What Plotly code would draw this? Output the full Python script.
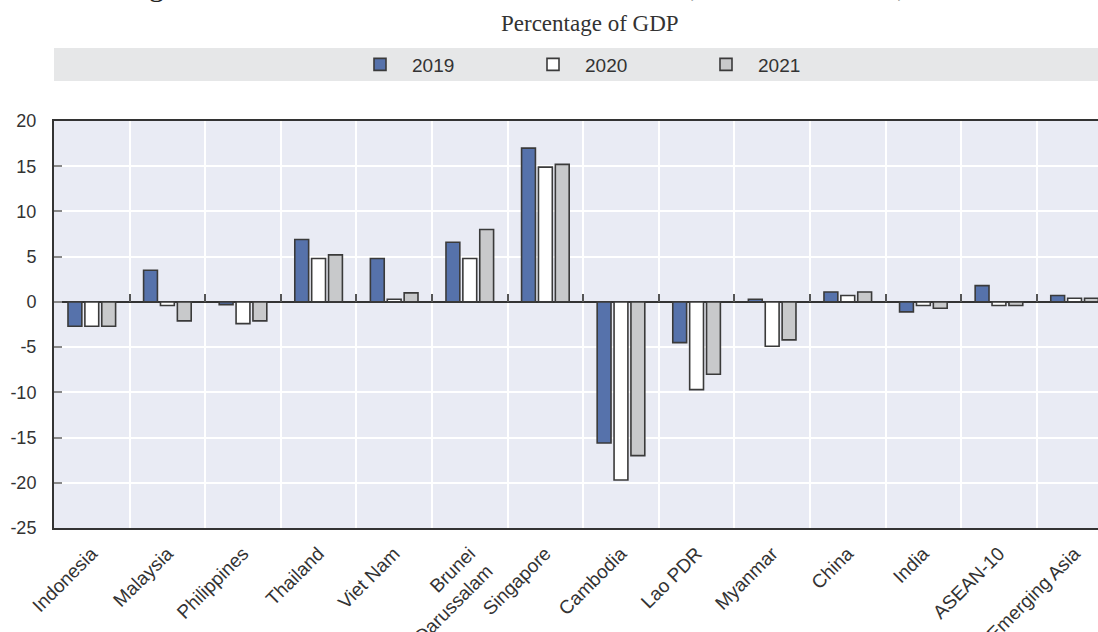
import plotly.graph_objects as go

categories = ["Indonesia", "Malaysia", "Philippines", "Thailand", "Viet Nam",
              "Brunei<br>Darussalam", "Singapore", "Cambodia", "Lao PDR", "Myanmar",
              "China", "India", "ASEAN-10", "Emerging Asia"]
years = ["2019", "2020", "2021"]
v2019 = [-2.7, 3.5, -0.3, 6.9, 4.8, 6.6, 17.0, -15.6, -4.5, 0.3, 1.1, -1.1, 1.8, 0.7]
v2020 = [-2.7, -0.4, -2.4, 4.8, 0.3, 4.8, 14.9, -19.7, -9.7, -4.9, 0.7, -0.4, -0.4, 0.4]
v2021 = [-2.7, -2.1, -2.1, 5.2, 1.0, 8.0, 15.2, -17.0, -8.0, -4.2, 1.1, -0.7, -0.4, 0.4]
y_tickvals = [-25, -20, -15, -10, -5, 0, 5, 10, 15, 20]
y_ticktext = ["-25", "-20", "-15", "-10", "-5", "0", "5", "10", "15", "20"]
series = [v2019, v2020, v2021]
colors = ["#5672AB", "#FFFFFF", "#C8C9CB"]

FONT = "Liberation Sans, Arial, sans-serif"
SERIF = "Liberation Serif, DejaVu Serif, serif"

fig = go.Figure()
for name, vals, col in zip(years, series, colors):
    fig.add_trace(go.Bar(x=categories, y=vals, name=name,
                         marker=dict(color=col, line=dict(color="#3a3a3a", width=1.6))))

# invisible helper trace to draw tick marks on the zero line
fig.add_trace(go.Scatter(x=categories, y=[0] * len(categories), xaxis="x2",
                         mode="markers", marker=dict(opacity=0), showlegend=False,
                         hoverinfo="skip"))

W, H = 1098, 632
ml, mr, mt, mb = 54, 0, 121, 632 - 528
ph = H - mt - mb
pw = W - ml - mr

def px_x(p):
    return (p - ml) / pw

def px_y(p):
    return 1 + (mt - p) / ph

fig.update_layout(
    width=W, height=H,
    margin=dict(l=ml, r=mr, t=mt, b=mb, autoexpand=False),
    paper_bgcolor="white",
    plot_bgcolor="#E9EBF4",
    barmode="group",
    bargap=0.33,
    bargroupgap=0.18,
    font=dict(family=FONT, color="#333333"),
    showlegend=True,
    legend=dict(orientation="h", x=px_x(348), xanchor="left", y=px_y(64.5), yanchor="middle",
                bgcolor="rgba(0,0,0,0)", font=dict(size=19, family=FONT, color="#333333"),
                itemwidth=54, entrywidth=104, entrywidthmode="pixels", traceorder="normal"),
    xaxis=dict(type="category", categoryorder="array", categoryarray=categories,
               range=[-0.5, 13.31], tickson="boundaries", showgrid=True,
               gridcolor="white", gridwidth=1.5, ticks="", tickangle=-45,
               tickfont=dict(size=19, family=FONT, color="#333333"),
               ticklabelstandoff=5,
               showline=True, linecolor="#333333", linewidth=2, mirror=True,
               zeroline=False, automargin=False),
    xaxis2=dict(type="category", categoryorder="array", categoryarray=categories,
                range=[-0.5, 13.31], overlaying="x", anchor="free",
                position=25 / 45, side="bottom", tickson="boundaries",
                ticks="inside", ticklen=8, tickcolor="#555555", tickwidth=1.5,
                showticklabels=False, showgrid=False, showline=False, zeroline=False,
                automargin=False),
    yaxis=dict(range=[-25, 20], tickmode="array", tickvals=y_tickvals, ticktext=y_ticktext,
               showgrid=True, gridcolor="white",
               gridwidth=1.5, ticks="inside", ticklen=8, tickcolor="#888888", tickwidth=1.5,
               tickfont=dict(size=18, family=FONT, color="#333333"),
               showline=True, linecolor="#333333", linewidth=2, mirror=False,
               zeroline=True, zerolinecolor="#333333", zerolinewidth=2,
               ticklabelstandoff=12, automargin=False),
    shapes=[dict(type="rect", xref="paper", yref="paper", x0=0, x1=1,
                 y0=px_y(81), y1=px_y(48), fillcolor="#E6E7E8", line=dict(width=0),
                 layer="below")],
    annotations=[
        dict(text="Figure 1.3. Current account balance in ASEAN, China and India, 2019-21",
             xref="paper", yref="paper", x=px_x(568), y=px_y(4), xanchor="center",
             yanchor="bottom", showarrow=False,
             font=dict(family=SERIF, size=30, color="#222222")),
        dict(text="Percentage of GDP", xref="paper", yref="paper", x=px_x(590), y=px_y(24),
             xanchor="center", yanchor="middle", showarrow=False,
             font=dict(family=SERIF, size=23, color="#333333")),
    ],
)

fig.write_html("out.html", config={"displayModeBar": False},
               post_script="document.body.style.margin='0';")
